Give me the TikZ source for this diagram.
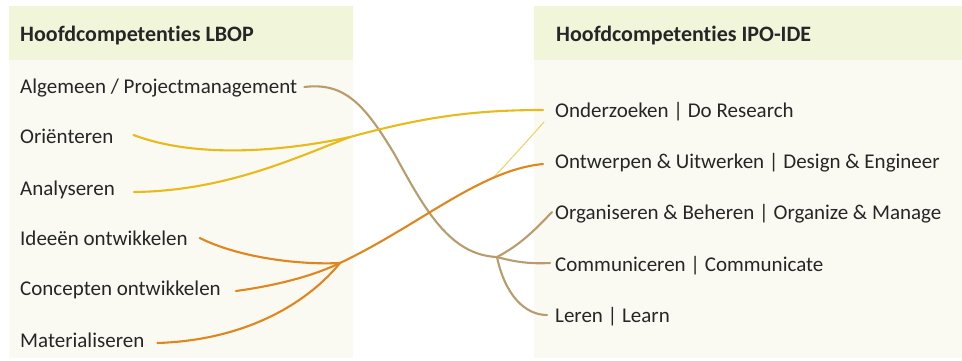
\documentclass[tikz,border=0pt]{standalone}
\usepackage{fontspec}
\setmainfont{Carlito}[Ligatures={NoCommon}]
\definecolor{hdrbg}{HTML}{F1F5DA}
\definecolor{bodybg}{HTML}{FAFAF3}
\definecolor{txt}{HTML}{262626}
\definecolor{cyellow}{HTML}{E8BB1A}
\definecolor{corange}{HTML}{E0861C}
\definecolor{cbrown}{HTML}{B89C6C}
\definecolor{clight}{HTML}{F0D060}
\tikzset{
  item/.style={anchor=base west, inner sep=0pt, text=txt, font=\fontsize{21}{25}\selectfont},
  hdr/.style={anchor=base west, inner sep=0pt, text=txt, font=\fontsize{22}{25}\selectfont\bfseries},
  yline/.style={draw=cyellow, line width=2.1pt, line cap=round},
  oline/.style={draw=corange, line width=2.1pt, line cap=round},
  bline/.style={draw=cbrown, line width=2.1pt, line cap=round},
  thinline/.style={draw=clight, line width=1pt, line cap=round},
}
\begin{document}
\begin{tikzpicture}[x=1pt,y=-1pt]
\useasboundingbox (0,0) rectangle (962,360);
% panels
\fill[bodybg] (9,6) rectangle (353,358);
\fill[hdrbg] (9,6) rectangle (353,60);
\fill[bodybg] (534,6) rectangle (962,358);
\fill[hdrbg] (534,6) rectangle (962,60);
% headers
\node[hdr] (hl) at (20,41) {Hoofdcompetenties LBOP};
\node[hdr] (hr) at (556,41) {Hoofdcompetenties IPO-IDE};
% left items
\node[item] (l1) at (20,93) {Algemeen / Projectmanagement};
\node[item] (l2) at (20,143) {Oriënteren};
\node[item] (l3) at (20,195) {Analyseren};
\node[item] (l4) at (20,245) {Ideeën ontwikkelen};
\node[item] (l5) at (20,295) {Concepten ontwikkelen};
\node[item] (l6) at (20,347) {Materialiseren};
% right items
\node[item] (r1) at (555,117) {Onderzoeken | Do Research};
\node[item] (r2) at (555,168) {Ontwerpen \& Uitwerken | Design \& Engineer};
\node[item] (r3) at (555,219) {Organiseren \& Beheren | Organize \& Manage};
\node[item] (r4) at (555,271) {Communiceren | Communicate};
\node[item] (r5) at (555,322) {Leren | Learn};
% junctions
\coordinate (j1) at (350,137);
\coordinate (j2) at (340,263);
\coordinate (j3) at (497,257);
\coordinate (jy) at (493,178);
% thin light yellow
\draw[thinline] (jy) .. controls (510,160) and (528,140) .. ([shift={(-11,5)}]r1.base west);
% brown
\draw[bline] ([shift={(7,-6)}]l1.base east) .. controls (345,82) and (365,105) .. (395,155)
   .. controls (425,210) and (450,255) .. (j3);
\draw[bline] (j3) .. controls (520,245) and (535,230) .. ([shift={(-3,-7)}]r3.base west);
\draw[bline] (j3) .. controls (515,262) and (530,264) .. ([shift={(-5,-8)}]r4.base west);
\draw[bline] (j3) .. controls (505,295) and (525,315) .. ([shift={(-8,-7)}]r5.base west);
% yellow
\draw[yline] ([shift={(20,-8)}]l2.base east) .. controls (200,160) and (290,150) .. (j1);
\draw[yline] ([shift={(19,-3)}]l3.base east) .. controls (225,191) and (295,158) .. (j1);
\draw[yline] (j1) .. controls (420,118) and (470,110) .. ([shift={(-12,-7)}]r1.base west);
% orange
\draw[oline] ([shift={(12,-7)}]l4.base east) .. controls (240,258) and (300,265) .. (j2);
\draw[oline] ([shift={(15,-4)}]l5.base east) .. controls (280,285) and (315,275) .. (j2);
\draw[oline] ([shift={(13,-4)}]l6.base east) .. controls (250,340) and (310,300) .. (j2);
\draw[oline] (j2) .. controls (420,225) and (480,170) .. ([shift={(-12,-4)}]r2.base west);
\end{tikzpicture}
\end{document}
